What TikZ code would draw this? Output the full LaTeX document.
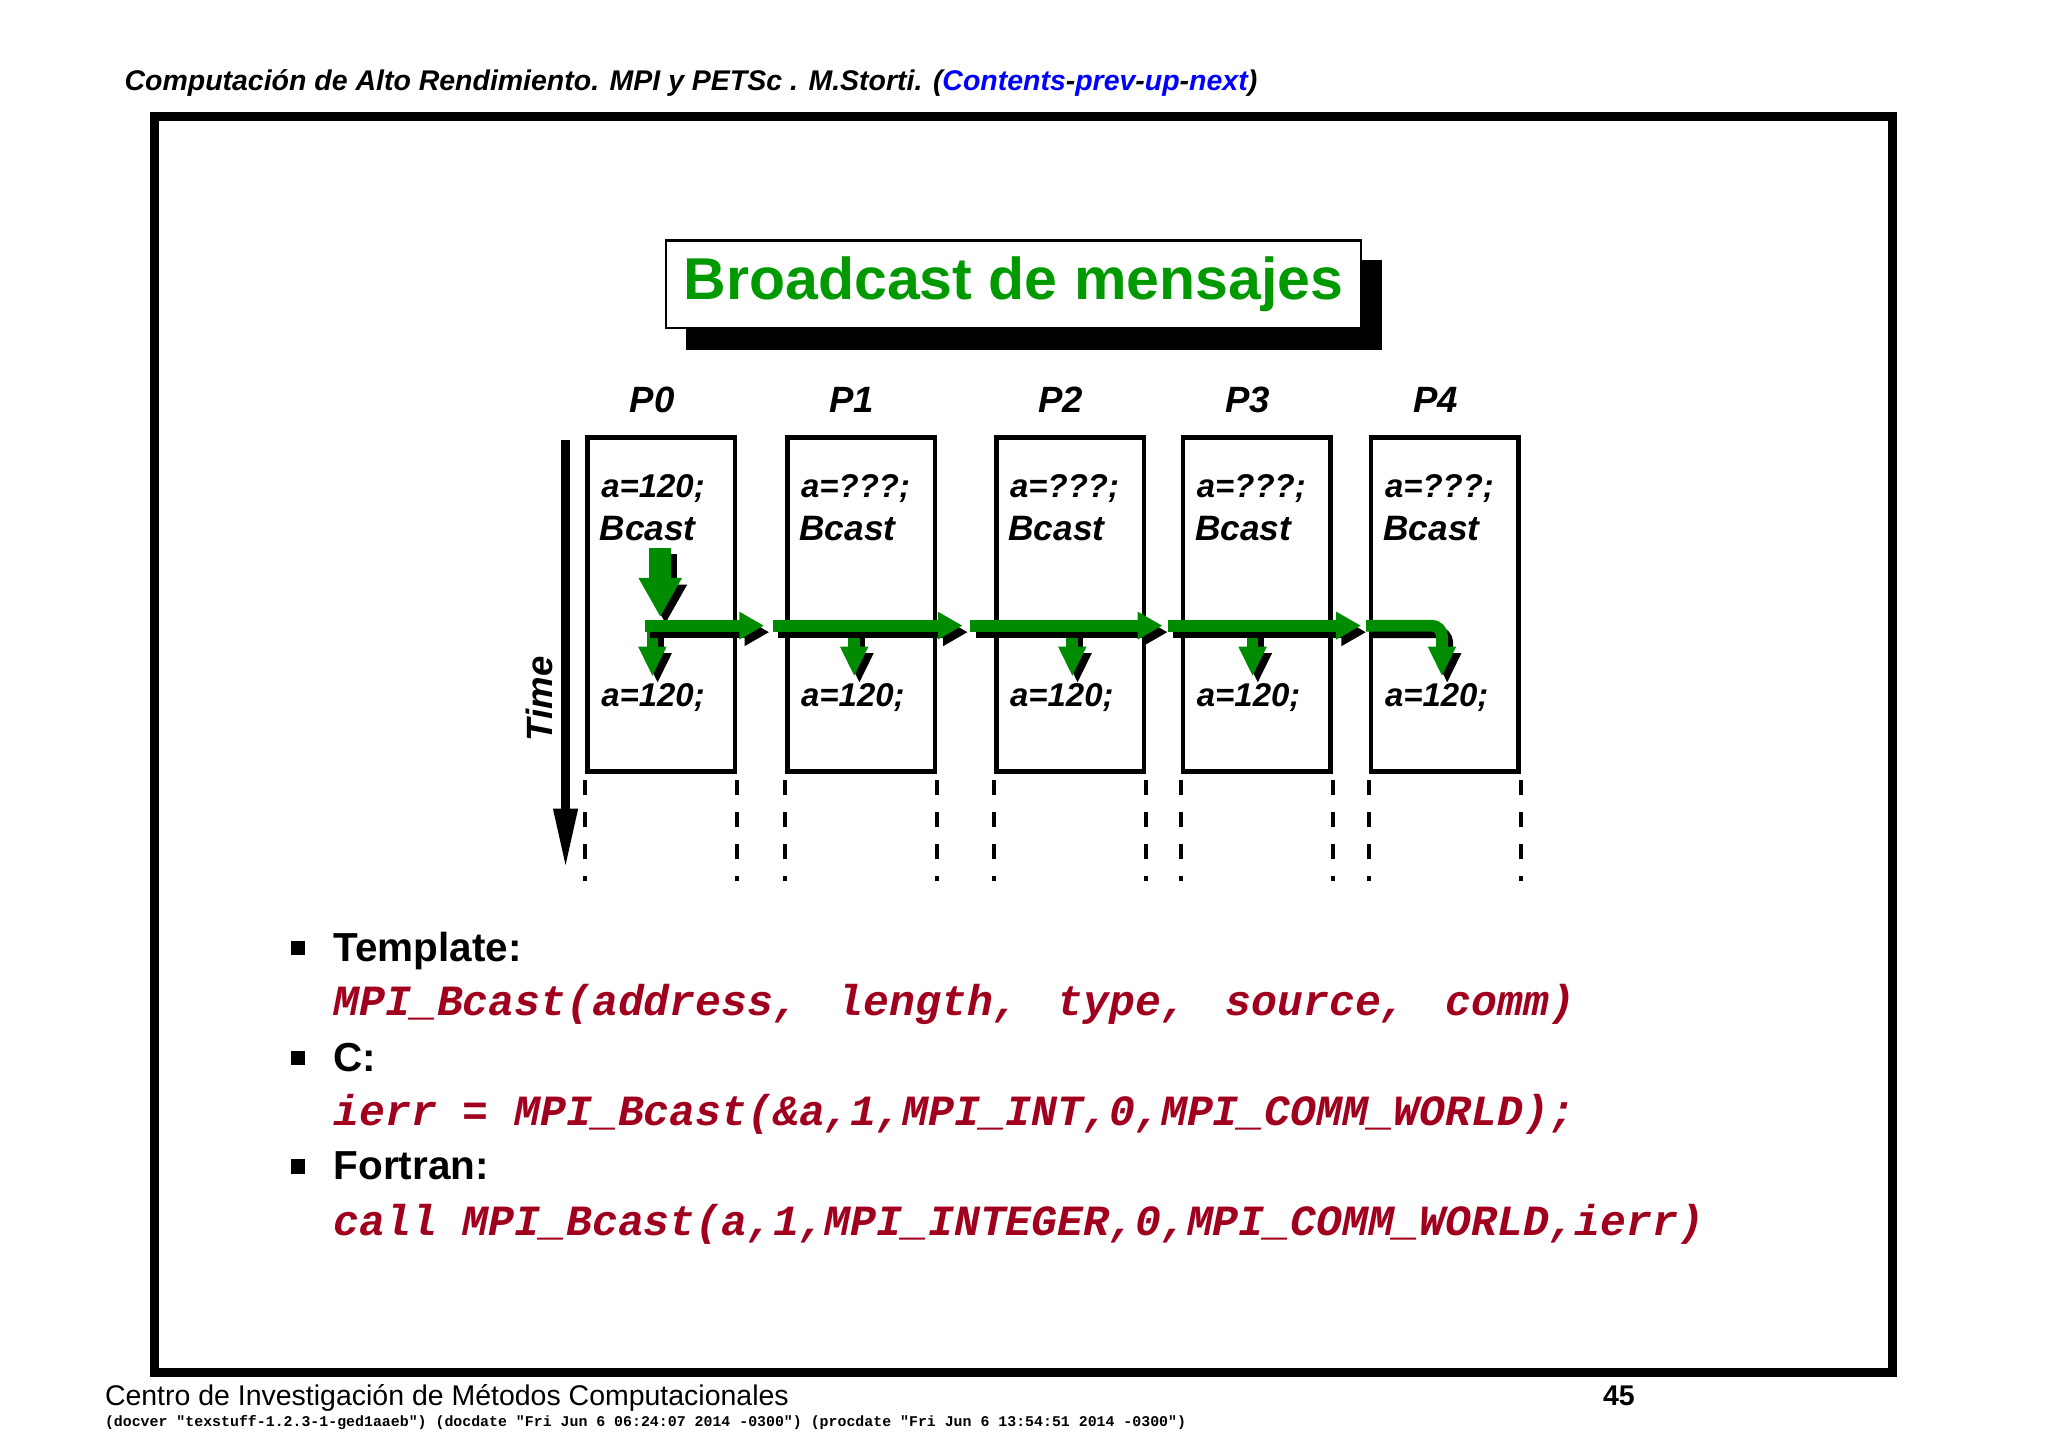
\documentclass[tikz,border=0pt]{standalone}
\usepackage{fontspec}
\setmainfont{Liberation Sans}
\newfontfamily\codefont{Liberation Mono}
\usetikzlibrary{arrows.meta,calc}
\definecolor{tgreen}{RGB}{0,153,0}
\definecolor{agreen}{RGB}{0,140,0}
\definecolor{codered}{RGB}{160,0,30}
\definecolor{linkblue}{RGB}{0,0,255}
\newcommand\fsz[1]{\fontsize{#1}{#1}\selectfont}
\newcommand\garrow[3]{\draw[#1,black] ($(#2)+(4,5)$) -- ($(#3)+(4,5)$); \draw[#1,agreen] (#2) -- (#3);}
\begin{document}
\begin{tikzpicture}[x=0.5pt,y=-0.5pt,
  procbox/.style={draw,line width=1.75pt,minimum width=56.5pt,minimum height=128pt,inner sep=0pt,anchor=north west},
  bi/.style={font=\bfseries\itshape,inner sep=0pt,anchor=base west},
  plab/.style={font=\fsz{14}\bfseries\itshape,inner sep=0pt,anchor=base},
  harrow/.style={line width=4.5pt,-{Triangle[length=9.5pt,width=10pt]}},
  bigdown/.style={line width=8.5pt,-{Triangle[length=15pt,width=15.5pt]}},
  smalldown/.style={line width=4.5pt,-{Triangle[length=11.5pt,width=10pt]}},
  vdash/.style={line width=1.5pt,dash pattern=on 5.75pt off 6.5pt},
  code/.style={font=\codefont\fsz{16.5}\bfseries\itshape,text=codered,inner sep=0pt,anchor=base west},
  btxt/.style={font=\fsz{15.5}\bfseries,inner sep=0pt,anchor=base west},
  bul/.style={fill=black,minimum size=5.5pt,inner sep=0pt}]
\useasboundingbox (0,0) rectangle (1568,1108.7);
\node[bi,font=\fsz{10.9}\bfseries\itshape] (hdr) at (95,69.4) {Computación de Alto Rendimiento. MPI y PETSc . M.Storti. (\textcolor{linkblue}{Contents}-\textcolor{linkblue}{prev}-\textcolor{linkblue}{up}-\textcolor{linkblue}{next})};
\draw[line width=3.5pt] (118.5,89.5) rectangle (1449,1051);
% title
\fill (525,199) rectangle (1058,268);
\node[draw,fill=white,line width=1pt,minimum width=266pt,minimum height=33.5pt,inner sep=0pt,text=tgreen,font=\fsz{22.6}\bfseries] (title) at (776,217.5) {Broadcast de mensajes};
% boxes
\foreach \i/\x/\v in {0/448/120,1/601/???,2/761/???,3/904/???,4/1048/???}{
  \node[procbox] (p\i) at (\x,333) {};
  \node[plab] (l\i) at ($(p\i.north)+(-7,-17)$) {P\i};
  \node[bi,font=\fsz{12.6}\bfseries\itshape] (a\i) at (\x+12,381) {a=\v;};
  \node[bi,font=\fsz{13.5}\bfseries\itshape] (b\i) at (\x+10.7,413.5) {Bcast};
  \node[bi,font=\fsz{12.6}\bfseries\itshape] (c\i) at (\x+12,541) {a=120;};
  \draw[vdash] ($(p\i.south west)+(0,5)$) -- ++(0,77);
  \draw[vdash] ($(p\i.south east)+(0,5)$) -- ++(0,77);
}
% time
\coordinate (t0) at (433,337); \coordinate (t1) at (433,666);
\draw[line width=3.6pt,-{Triangle[length=23.5pt,width=8.5pt]}] (t0) -- (t1);
\node[font=\fsz{14}\bfseries\itshape,rotate=90,inner sep=0pt] (time) at (413,535) {Time};
% green arrows
\coordinate (d0) at (505.5,419.5); \coordinate (d1) at (505.5,472.5);
\garrow{bigdown}{d0}{d1}
\coordinate (h0a) at (494,479); \coordinate (h0b) at (585,479);
\coordinate (h1a) at (592,479); \coordinate (h1b) at (737,479);
\coordinate (h2a) at (743,479); \coordinate (h2b) at (890,479);
\coordinate (h3a) at (894,479); \coordinate (h3b) at (1042,479);
\coordinate (s0a) at (499.5,476); \coordinate (s0b) at (499.5,518);
\coordinate (s1a) at (654,479); \coordinate (s1b) at (654,518);
\coordinate (s2a) at (821,479); \coordinate (s2b) at (821,518);
\coordinate (s3a) at (959,479); \coordinate (s3b) at (959,518);
\garrow{smalldown}{s0a}{s0b}
\garrow{smalldown}{s1a}{s1b}
\garrow{smalldown}{s2a}{s2b}
\garrow{smalldown}{s3a}{s3b}
\garrow{harrow}{h0a}{h0b}
\garrow{harrow}{h1a}{h1b}
\garrow{harrow}{h2a}{h2b}
\garrow{harrow}{h3a}{h3b}
\coordinate (h4a) at (1046,479); \coordinate (h4b) at (1104,518);
\draw[smalldown,black,rounded corners=4pt] ($(h4a)+(4,5)$) -| ($(h4b)+(4,5)$);
\draw[smalldown,agreen,rounded corners=4pt] (h4a) -| (h4b);
% bullets
\node[bul] (q1) at (228,726) {};
\node[btxt] (t1x) at (255,736) {Template:};
\node[code] (k1) at (255,777.5) {MPI\_Bcast(address,\hspace{0.3em} length,\hspace{0.3em} type,\hspace{0.3em} source,\hspace{0.3em} comm)};
\node[bul] (q2) at (228,810) {};
\node[btxt] (t2x) at (255,820) {C:};
\node[code] (k2) at (255,862) {ierr = MPI\_Bcast(\&a,1,MPI\_INT,0,MPI\_COMM\_WORLD);};
\node[bul] (q3) at (228,893) {};
\node[btxt] (t3x) at (255,903) {Fortran:};
\node[code] (k3) at (255,946) {call MPI\_Bcast(a,1,MPI\_INTEGER,0,MPI\_COMM\_WORLD,ierr)};
% footer
\node[inner sep=0pt,anchor=base west,font=\fsz{10.9}] (ft) at (80,1076) {Centro de Investigación de Métodos Computacionales};
\node[inner sep=0pt,anchor=base east,font=\fsz{10.9}\bfseries] (pg) at (1252,1076) {45};
\node[inner sep=0pt,anchor=base west,font=\codefont\fsz{5.7}\bfseries] (dv) at (80,1092) {(docver "texstuff-1.2.3-1-ged1aaeb") (docdate "Fri Jun 6 06:24:07 2014 -0300") (procdate "Fri Jun 6 13:54:51 2014 -0300")};
\end{tikzpicture}
\end{document}
